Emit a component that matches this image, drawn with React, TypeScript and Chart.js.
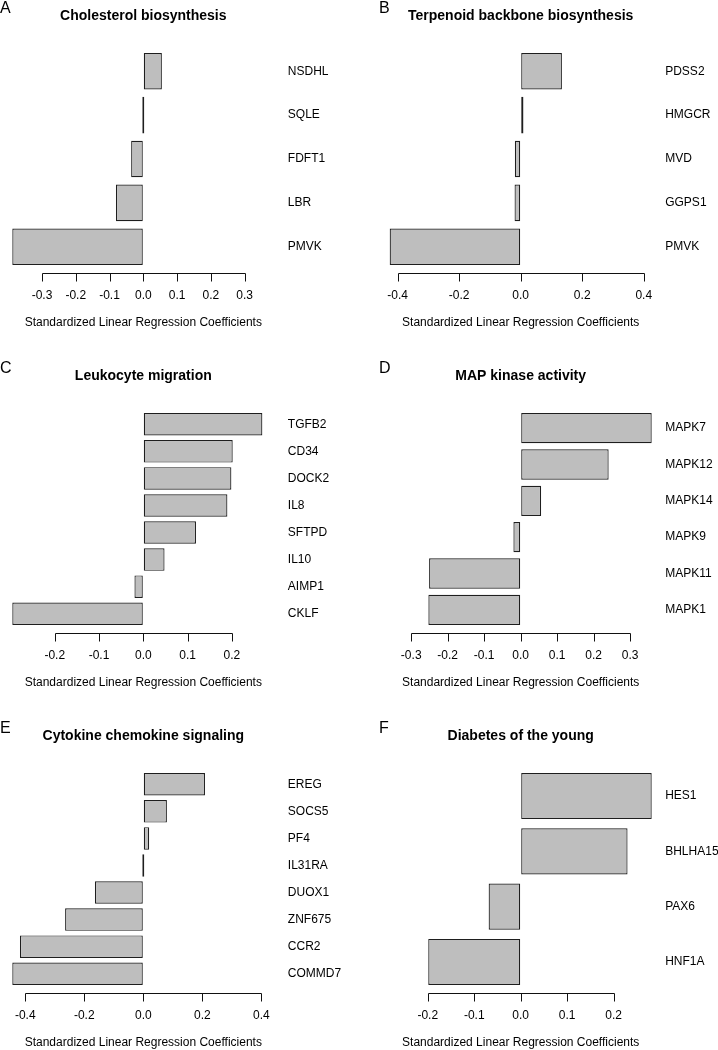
import React, { useEffect, useRef } from "react";
import { Chart, registerables } from "chart.js";

Chart.register(...registerables);

const FONT = "'Liberation Sans', Arial, Helvetica, sans-serif";

// ---------- data ----------
const cholesterolGenes = ["NSDHL", "SQLE", "FDFT1", "LBR", "PMVK"];
const cholesterolValues = [0.055, 0, -0.036, -0.081, -0.388];
const cholesterolTicks = [-0.3, -0.2, -0.1, 0, 0.1, 0.2, 0.3];

const terpenoidGenes = ["PDSS2", "HMGCR", "MVD", "GGPS1", "PMVK"];
const terpenoidValues = [0.134, 0.009, -0.019, -0.02, -0.426];
const terpenoidTicks = [-0.4, -0.2, 0, 0.2, 0.4];

const leukocyteGenes = ["TGFB2", "CD34", "DOCK2", "IL8", "SFTPD", "IL10", "AIMP1", "CKLF"];
const leukocyteValues = [0.269, 0.202, 0.199, 0.19, 0.119, 0.048, -0.02, -0.296];
const leukocyteTicks = [-0.2, -0.1, 0, 0.1, 0.2];

const mapkGenes = ["MAPK7", "MAPK12", "MAPK14", "MAPK9", "MAPK11", "MAPK1"];
const mapkValues = [0.359, 0.241, 0.056, -0.02, -0.251, -0.253];
const mapkTicks = [-0.3, -0.2, -0.1, 0, 0.1, 0.2, 0.3];

const cytokineGenes = ["EREG", "SOCS5", "PF4", "IL31RA", "DUOX1", "ZNF675", "CCR2", "COMMD7"];
const cytokineValues = [0.209, 0.08, 0.02, 0, -0.164, -0.265, -0.418, -0.444];
const cytokineTicks = [-0.4, -0.2, 0, 0.2, 0.4];

const diabetesGenes = ["HES1", "BHLHA15", "PAX6", "HNF1A"];
const diabetesValues = [0.282, 0.23, -0.069, -0.199];
const diabetesTicks = [-0.2, -0.1, 0, 0.1, 0.2];

const panelLetters = ["A", "B", "C", "D", "E", "F"];
const panelTitles = [
  "Cholesterol biosynthesis",
  "Terpenoid backbone biosynthesis",
  "Leukocyte migration",
  "MAP kinase activity",
  "Cytokine chemokine signaling",
  "Diabetes of the young",
];
const axisTitle = "Standardized Linear Regression Coefficients";

// ---------- layout constants ----------
const COL_W = 359;
const ROW_H = 360;
const CANVAS_H = 330;
const PLOT_W = 283;
const BAR_TOP = 53;
const BAR_BOTTOM = 265;
const AXIS_Y = 273.5;
const TITLE_Y = 16;
const TICKLABEL_Y = 296;

const rAxisPlugin = {
  id: "rAxis",
  afterDraw(chart: any, _args: any, opts: any) {
    const xs = chart.scales.x;
    const ctx = chart.ctx;
    const ticks: number[] = opts.ticks || [];
    if (!ticks.length) return;
    const px = (v: number) => Math.round(xs.getPixelForValue(v)) + 0.5;
    const y = AXIS_Y;
    ctx.save();
    ctx.strokeStyle = "#111";
    ctx.lineWidth = 1;
    ctx.beginPath();
    ctx.moveTo(px(ticks[0]), y);
    ctx.lineTo(px(ticks[ticks.length - 1]), y);
    for (const t of ticks) {
      ctx.moveTo(px(t), y);
      ctx.lineTo(px(t), y + 8);
    }
    ctx.stroke();
    ctx.restore();
  },
};

type PanelProps = {
  idx: number;
  genes: string[];
  values: number[];
  ticks: number[];
};

function Panel({ idx, genes, values, ticks }: PanelProps) {
  const ref = useRef<HTMLCanvasElement | null>(null);
  const col = idx % 2;
  const row = Math.floor(idx / 2);

  useEffect(() => {
    if (!ref.current) return;
    const n = genes.length;
    const u = (BAR_BOTTOM - BAR_TOP) / (1.2 * n - 0.2);
    const areaTop = BAR_TOP - 0.1 * u;
    const areaBottom = BAR_BOTTOM + 0.1 * u;
    const plotLeft = col === 0 ? 1.8 : 20.2;
    const plotRight = plotLeft + PLOT_W;
    const m = Math.max(...values.map((v) => Math.abs(v)));
    const titleLH = 14 * 1.2;
    const titlePadTop = TITLE_Y - titleLH / 2;
    const titlePadBottom = areaTop - titlePadTop - titleLH;

    const chart = new Chart(ref.current, {
      type: "bar",
      data: {
        labels: genes,
        datasets: [
          {
            data: values,
            backgroundColor: "#bebebe",
            borderColor: "#1e1e1e",
            borderWidth: 1.2,
            borderSkipped: false,
            minBarLength: 2,
            categoryPercentage: 1,
            barPercentage: 1 / 1.2,
          },
        ],
      },
      plugins: [rAxisPlugin],
      options: {
        indexAxis: "y",
        responsive: false,
        animation: false,
        layout: { padding: { left: plotLeft, right: 0, top: 0, bottom: 0 } },
        plugins: {
          legend: { display: false },
          tooltip: { enabled: false },
          title: {
            display: true,
            text: panelTitles[idx],
            fullSize: false,
            color: "#000",
            font: { family: FONT, size: 14, weight: "bold", lineHeight: 1.2 },
            padding: { top: titlePadTop, bottom: titlePadBottom },
          },
          rAxis: { ticks },
        } as any,
        scales: {
          x: {
            type: "linear",
            min: -1.08 * m,
            max: 1.08 * m,
            grid: {
              display: true,
              drawOnChartArea: false,
              drawTicks: true,
              tickLength: TICKLABEL_Y - areaBottom - 7.2,
              color: "rgba(0,0,0,0)",
            },
            border: { display: false },
            afterBuildTicks: (s: any) => {
              s.ticks = ticks.map((v) => ({ value: v }));
            },
            afterFit: (s: any) => {
              s.height = CANVAS_H - areaBottom;
            },
            ticks: {
              autoSkip: false,
              maxRotation: 0,
              color: "#000",
              padding: 0,
              font: { family: FONT, size: 12, lineHeight: 1.2 },
              callback: (v: any) => Number(v).toFixed(1),
            },
            title: {
              display: true,
              text: axisTitle,
              color: "#000",
              font: { family: FONT, size: 12, lineHeight: 1.2 },
              padding: { top: 0, bottom: 0 },
            },
          },
          y: {
            type: "category",
            position: "right",
            grid: { display: false, drawTicks: false },
            border: { display: false },
            afterFit: (s: any) => {
              s.width = COL_W - plotRight;
            },
            ticks: {
              color: "#000",
              padding: 3,
              font: { family: FONT, size: 12, lineHeight: 1.2 },
            },
          },
        },
      } as any,
    });
    return () => chart.destroy();
  }, []);

  return (
    <div
      style={{
        position: "absolute",
        left: col * COL_W,
        top: row * ROW_H,
        width: COL_W,
        height: CANVAS_H,
      }}
    >
      <canvas
        ref={ref}
        width={COL_W}
        height={CANVAS_H}
        style={{ width: COL_W, height: CANVAS_H, display: "block" }}
      />
      <div
        style={{
          position: "absolute",
          left: col === 0 ? 0 : 20,
          top: -0.5,
          fontFamily: FONT,
          fontSize: 16,
          lineHeight: "16px",
          color: "#000",
        }}
      >
        {panelLetters[idx]}
      </div>
    </div>
  );
}

export default function App() {
  return (
    <div
      style={{
        position: "absolute",
        left: 0,
        top: 0,
        width: 718,
        height: 1050,
        background: "#fff",
        overflow: "hidden",
      }}
    >
      <Panel idx={0} genes={cholesterolGenes} values={cholesterolValues} ticks={cholesterolTicks} />
      <Panel idx={1} genes={terpenoidGenes} values={terpenoidValues} ticks={terpenoidTicks} />
      <Panel idx={2} genes={leukocyteGenes} values={leukocyteValues} ticks={leukocyteTicks} />
      <Panel idx={3} genes={mapkGenes} values={mapkValues} ticks={mapkTicks} />
      <Panel idx={4} genes={cytokineGenes} values={cytokineValues} ticks={cytokineTicks} />
      <Panel idx={5} genes={diabetesGenes} values={diabetesValues} ticks={diabetesTicks} />
    </div>
  );
}
